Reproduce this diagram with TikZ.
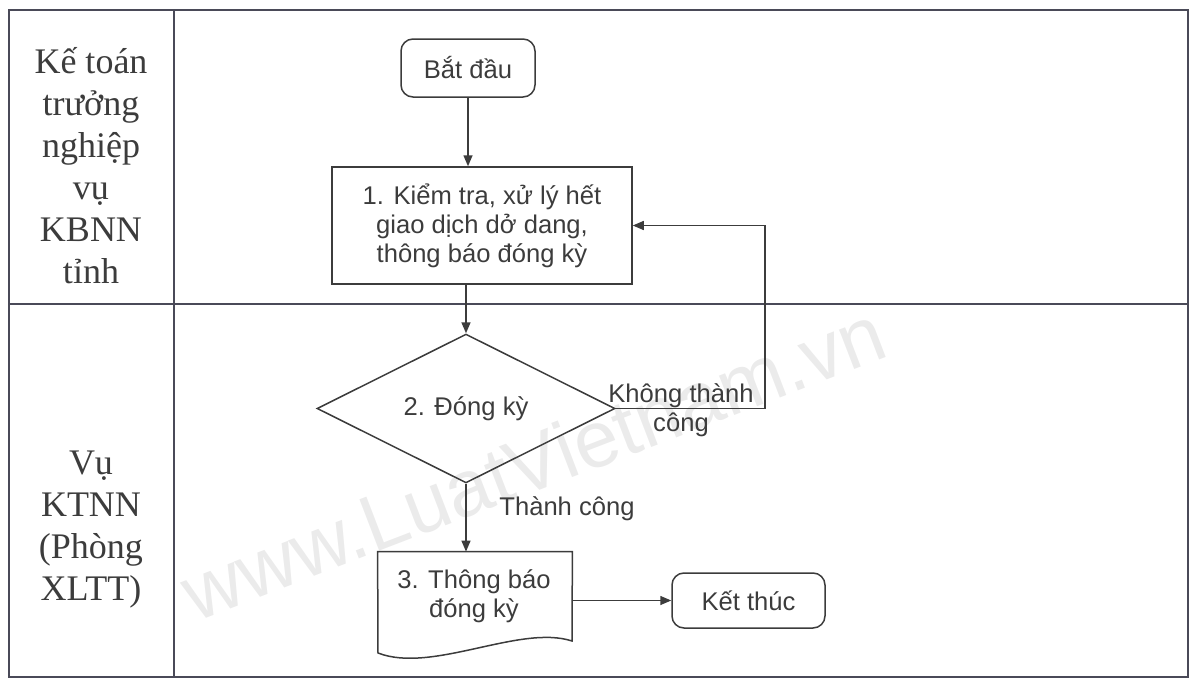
\documentclass[tikz,border=0pt]{standalone}
\usepackage{fontspec}
\setmainfont{Liberation Serif}
\setsansfont{Liberation Sans}
\usetikzlibrary{shapes.geometric,arrows.meta}
\definecolor{ink}{HTML}{3C3C3C}
\definecolor{rule}{HTML}{4A4A58}
\definecolor{wmark}{HTML}{EBEBEB}

\begin{document}
\begin{tikzpicture}[x=0.5pt,y=-0.5pt,
  lanerule/.style={draw=rule, line width=0.8pt},
  lanelabel/.style={text=ink, align=center, font=\rmfamily\fontsize{18}{21}\selectfont},
  boxtext/.style={text=ink, align=center, font=\sffamily\fontsize{12.8}{14.5}\selectfont},
  terminal/.style={boxtext, draw=ink, line width=0.75pt, rounded corners=6pt, inner sep=0pt},
  process/.style={boxtext, draw=ink, line width=0.75pt, inner sep=0pt},
  decision/.style={boxtext, draw=ink, line width=0.75pt, diamond, inner sep=0pt},
  flow/.style={draw=ink, line width=0.75pt, -{Triangle[length=5.5pt,width=4.5pt]}},
  flowlabel/.style={boxtext}]

\useasboundingbox (0,0) rectangle (1191,680);

% watermark
\node[text=wmark, rotate=21, font=\sffamily\fontsize{40}{40}\selectfont] (wm) at (533,462) {www.LuatVietnam.vn};

% swimlane frame
\draw[lanerule] (9,10) rectangle (1188,677);
\draw[lanerule] (174,10) -- (174,677);
\draw[lanerule] (9,304) -- (1188,304);

% lane titles
\node[lanelabel] (lane1) at (91,166) {Kế toán\\trưởng\\nghiệp\\vụ\\KBNN\\tỉnh};
\node[lanelabel] (lane2) at (91,530) {Vụ\\KTNN\\(Phòng\\XLTT)};

% flow nodes
\node[terminal, minimum width=67pt, minimum height=29pt] (start) at (468,68) {Bắt đầu};
\node[process, minimum width=150pt, minimum height=58.5pt] (check) at (482,225.5)
  {1. Kiểm tra, xử lý hết\\giao dịch dở dang,\\thông báo đóng kỳ};
\node[decision, minimum width=149pt, minimum height=73.5pt] (close) at (466,408.5) {2. Đóng kỳ};
\node[minimum width=97pt, minimum height=50.5pt, inner sep=0pt] (notice) at (475,602.5) {};
\draw[draw=ink, line width=0.75pt] (notice.north west) -- (notice.north east) -- (572,641)
  .. controls (520,624) and (432,674) .. (378,653) -- cycle;
\node[boxtext] (noticetext) at (474,596) {3. Thông báo\\đóng kỳ};
\node[terminal, minimum width=76.5pt, minimum height=27.5pt] (stop) at (748.5,600.5) {Kết thúc};

% connectors
\coordinate (loop) at (765,0);
\draw[flow] (start.south) -- (start.south |- check.north);
\draw[flow] (close.north |- check.south) -- (close.north);
\draw[flow] (close.east) -- (close.east -| loop) -- (check.east -| loop) -- (check.east);
\draw[flow] (close.south) -- (close.south |- notice.north);
\draw[flow] (notice.east |- stop.west) -- (stop.west);

% branch labels
\node[flowlabel] (fail) at (681,410) {Không thành\\công};
\node[flowlabel] (ok) at (567,509) {Thành công};
\end{tikzpicture}
\end{document}
